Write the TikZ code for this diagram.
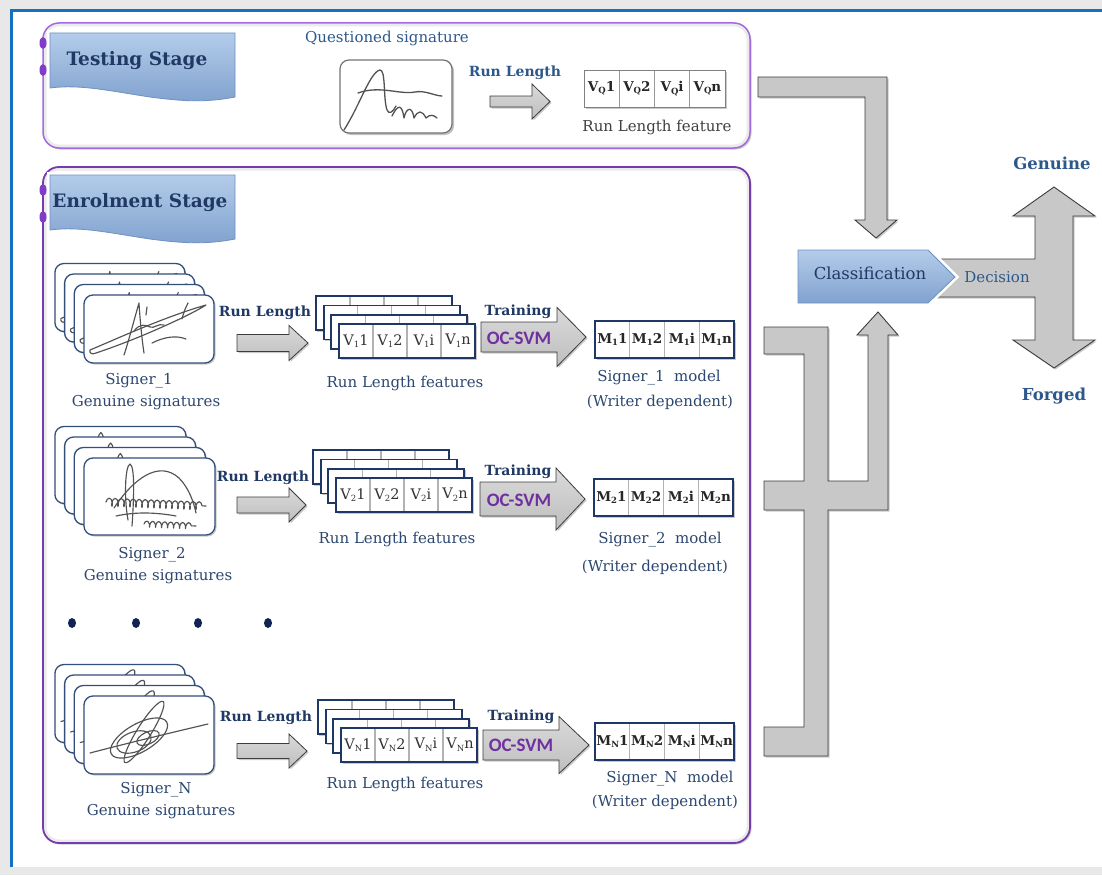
\documentclass[tikz,border=0pt]{standalone}
\usepackage{fontspec}
\setmainfont{DejaVu Serif}
\newfontfamily\calib{Carlito}
\usetikzlibrary{shadows,decorations.pathmorphing}

\definecolor{frameblue}{RGB}{22,112,192}
\definecolor{pagegray}{RGB}{232,232,232}
\definecolor{testpurple}{RGB}{165,105,225}
\definecolor{enrolpurple}{RGB}{118,60,175}
\definecolor{dotpurple}{RGB}{128,60,200}
\definecolor{bannertop}{RGB}{180,204,234}
\definecolor{bannerbot}{RGB}{128,162,206}
\definecolor{bannerline}{RGB}{110,145,195}
\definecolor{navy}{RGB}{31,56,100}
\definecolor{slate}{RGB}{45,72,112}
\definecolor{steel}{RGB}{45,88,140}
\definecolor{cardblue}{RGB}{50,78,122}
\definecolor{boxnavy}{RGB}{30,55,100}
\definecolor{arrowtop}{RGB}{218,218,218}
\definecolor{arrowbot}{RGB}{190,190,190}
\definecolor{arrowflat}{RGB}{200,200,200}
\definecolor{arrowline}{RGB}{60,60,60}
\definecolor{svmpurple}{RGB}{112,48,160}
\definecolor{dotnavy}{RGB}{15,35,85}
\definecolor{darktext}{RGB}{64,64,64}
\definecolor{divgray}{RGB}{178,178,178}

\tikzset{
  softshadow/.style={drop shadow={shadow xshift=1.5pt,shadow yshift=-1.5pt,opacity=0.35,fill=black!60}},
  blockarrow/.style={top color=arrowtop,bottom color=arrowbot,draw=arrowline,line width=0.8pt,line join=miter,softshadow},
  bigarrow/.style={fill=arrowflat,draw=arrowline,line width=0.9pt,line join=miter,softshadow},
  cardfill/.style={fill=white,rounded corners=9pt,softshadow},
  cardline/.style={draw=cardblue,line width=1.3pt,rounded corners=9pt},
  sigline/.style={draw=black!68,line width=1.15pt,line cap=round,line join=round},
  featfill/.style={fill=white,softshadow},
  featline/.style={draw=boxnavy,line width=1.8pt},
  celldiv/.style={draw=divgray,line width=1.2pt},
  lbl/.style={inner sep=0pt,text=slate,font=\fontsize{15}{16}\selectfont},
  blbl/.style={inner sep=0pt,text=navy,font=\fontsize{14}{16}\selectfont\bfseries},
  svm/.style={inner sep=0pt,text=svmpurple,font=\calib\fontsize{19}{20}\selectfont\bfseries},
  cellv/.style={inner sep=0pt,text=black!80,font=\fontsize{14.5}{16}\selectfont},
  cellm/.style={inner sep=0pt,text=black!85,font=\fontsize{13.5}{16}\selectfont\bfseries},
  stagetxt/.style={inner sep=0pt,text=navy,font=\fontsize{18.5}{20}\selectfont\bfseries},
  banner/.style={top color=bannertop,bottom color=bannerbot,draw=bannerline,line width=0.8pt},
  glow/.style={draw=white,fill=white,line width=6pt,line join=miter,softshadow},
}

% small lowered index inside a cell label
\newcommand\lowidx[1]{\raisebox{-0.35ex}{\fontsize{8.5}{9}\selectfont #1}}

% right-pointing block arrow: x start, head base x, tip x, centre y, shaft half height, head half height
\newcommand\rarrow[6]{%
  \path[blockarrow] (#1,#4-#5) -- (#2,#4-#5) -- (#2,#4-#6) -- (#3,#4) -- (#2,#4+#6) -- (#2,#4+#5) -- (#1,#4+#5) -- cycle;}

% stack of four signature cards; #1,#2 front card corner, #3 width, #4 height, #5 strokes
\newcommand\sigstack[5]{%
  \foreach \k in {3,2,1,0}{
    \begin{scope}[shift={(#1-9.7*\k,#2-10.5*\k)}]
      \path[cardfill] (0,0) rectangle (#3,#4);
      \begin{scope}
        \clip[rounded corners=9pt] (0,0) rectangle (#3,#4);
        #5
      \end{scope}
      \draw[cardline] (0,0) rectangle (#3,#4);
    \end{scope}
  }}

% stack of feature vectors; #1 name, #2,#3 front corner, #4-#7 cell labels
\newcommand\featstack[7]{%
  \foreach \k in {3,2,1}{
    \begin{scope}[shift={(#2-7.7*\k,#3-9.3*\k)}]
      \path[featfill] (0,0) rectangle (136,34);
      \foreach \c in {1,2,3} \draw[celldiv] (34*\c,1) -- (34*\c,33);
      \draw[featline] (0,0) rectangle (136,34);
    \end{scope}
  }
  \path[featfill] (#2,#3) rectangle +(136,34);
  \foreach \c in {1,2,3} \draw[celldiv] (#2+34*\c,#3+1) -- (#2+34*\c,#3+33);
  \draw[featline] (#2,#3) rectangle +(136,34);
  \node[cellv] (#1-a) at (#2+17,#3+17) {#4};
  \node[cellv] (#1-b) at (#2+51,#3+17) {#5};
  \node[cellv] (#1-c) at (#2+85,#3+17) {#6};
  \node[cellv] (#1-d) at (#2+119,#3+17) {#7};}

% writer model vector; #1 name, #2,#3 corner, #4-#7 cell labels
\newcommand\modelbox[7]{%
  \path[featfill] (#2,#3) rectangle +(139,37);
  \foreach \c in {1,2,3} \draw[celldiv] (#2+34.75*\c,#3+1) -- (#2+34.75*\c,#3+36);
  \draw[featline] (#2,#3) rectangle +(139,37);
  \node[cellm] (#1-a) at (#2+17.4,#3+18.5) {#4};
  \node[cellm] (#1-b) at (#2+52.1,#3+18.5) {#5};
  \node[cellm] (#1-c) at (#2+86.9,#3+18.5) {#6};
  \node[cellm] (#1-d) at (#2+121.6,#3+18.5) {#7};}

% handwritten strokes
\newcommand\sigone{%
  \draw[sigline] (6,55) .. controls (30,45) and (80,22) .. (122,10) .. controls (110,18) and (60,42) .. (12,58) .. controls (8,60) and (5,58) .. (6,55);
  \draw[sigline] (40,60) .. controls (45,45) and (50,25) .. (55,8) .. controls (56,25) and (58,45) .. (60,58);
  \draw[sigline] (50,36) .. controls (56,28) and (62,30) .. (66,32) .. controls (70,34) and (74,28) .. (80,30);
  \draw[sigline] (68,48) .. controls (80,42) and (92,40) .. (102,44);
  \draw[sigline] (98,24) .. controls (100,16) and (102,12) .. (104,8);
  \draw[sigline] (62,20) -- (63,12);}
\newcommand\sigtwo{%
  \draw[sigline] (44,62) .. controls (40,40) and (41,8) .. (46,6) .. controls (51,8) and (50,40) .. (48,68);
  \draw[sigline] (30,50) .. controls (50,20) and (75,2) .. (95,20) .. controls (105,30) and (110,45) .. (112,55);
  \draw[sigline,decorate,decoration={coil,amplitude=4pt,segment length=6pt,aspect=0.4}] (22,44) -- (122,48);
  \draw[sigline,decorate,decoration={coil,amplitude=3pt,segment length=6pt,aspect=0.4}] (60,66) -- (112,68);
  \draw[sigline] (32,58) .. controls (50,54) and (70,54) .. (92,58);}
\newcommand\sigthree{%
  \draw[sigline,rotate around={30:(55,42)}] (55,42) ellipse [x radius=32,y radius=14];
  \draw[sigline,rotate around={58:(60,36)}] (60,36) ellipse [x radius=36,y radius=7];
  \draw[sigline,rotate around={20:(50,46)}] (50,46) ellipse [x radius=18,y radius=10];
  \draw[sigline,rotate around={25:(64,42)}] (64,42) ellipse [x radius=12,y radius=6];
  \draw[sigline] (6,57) .. controls (40,48) and (90,36) .. (124,28);}
\newcommand\sigtest{%
  \draw[sigline,line width=1.3pt] (4,70) .. controls (20,45) and (30,12) .. (40,10) .. controls (46,10) and (43,38) .. (47,50) .. controls (49,55) and (53,52) .. (56,46);
  \draw[sigline,line width=1.3pt] (18,33) .. controls (40,25) and (60,35) .. (75,32) .. controls (85,30) and (95,36) .. (102,36);
  \draw[sigline,line width=1.3pt] (52,56) .. controls (58,44) and (62,44) .. (64,58) .. controls (66,48) and (72,45) .. (74,58) .. controls (78,50) and (82,50) .. (86,58) .. controls (90,54) and (94,55) .. (97,58);}

\begin{document}
\begin{tikzpicture}[x=1pt,y=-1pt]
\useasboundingbox (0,0) rectangle (1102,875);

% page and frame
\fill[pagegray] (0,0) rectangle (1102,875);
\fill[white] (11,11) rectangle (1102,867);
\draw[frameblue,line width=3pt] (11,867) -- (11,11) -- (1102,11);

% stage panels
\path[fill=white,rounded corners=16pt,softshadow] (43,23) rectangle (750,148);
\begin{scope}
  \clip[rounded corners=16pt] (43,23) rectangle (750,148);
  \draw[black!8,line width=7pt,rounded corners=16pt] (43,23) rectangle (750,148);
\end{scope}
\draw[testpurple,line width=1.5pt,rounded corners=16pt] (43,23) rectangle (750,148);

\path[fill=white,rounded corners=16pt,softshadow] (43,167) rectangle (750,843);
\begin{scope}
  \clip[rounded corners=16pt] (43,167) rectangle (750,843);
  \draw[black!8,line width=7pt,rounded corners=16pt] (43,167) rectangle (750,843);
\end{scope}
\draw[enrolpurple,line width=1.8pt,rounded corners=16pt] (43,167) rectangle (750,843);

% stage banners
\foreach \dy/\nm/\txt/\tx in {0/testing/Testing Stage/137, 142/enrol/Enrolment Stage/140}{
  \begin{scope}[shift={(0,\dy)}]
    \path[glow] (50,33) -- (235,33) -- (235,97) .. controls (205,103) and (180,101) .. (150,97) .. controls (110,91) and (80,84) .. (50,88) -- cycle;
    \path[banner] (50,33) -- (235,33) -- (235,97) .. controls (205,103) and (180,101) .. (150,97) .. controls (110,91) and (80,84) .. (50,88) -- cycle;
    \node[stagetxt] (\nm) at (\tx,61) {\txt};
  \end{scope}
}
\foreach \yy in {43,70,190,217} \fill[dotpurple] (43,\yy) ellipse [x radius=3.5,y radius=6];

% testing stage
\node[lbl,text=steel] (qlabel) at (387,38) {Questioned signature};
\begin{scope}[shift={(340,60)}]
  \path[fill=white,rounded corners=9pt,drop shadow={shadow xshift=2pt,shadow yshift=-2pt,opacity=0.4,fill=black!60}] (0,0) rectangle (112,73);
  \begin{scope}
    \clip[rounded corners=9pt] (0,0) rectangle (112,73);
    \sigtest
  \end{scope}
  \draw[black!55,line width=1.2pt,rounded corners=9pt] (0,0) rectangle (112,73);
\end{scope}
\node[blbl,text=steel] (qrl) at (515,73) {Run Length};
\rarrow{490}{532}{550}{101.5}{5.5}{17.5}
\path[fill=white,drop shadow={shadow xshift=2pt,shadow yshift=-2pt,opacity=0.35,fill=black!60}] (584,70) rectangle (725,107);
\foreach \c in {1,2,3} \draw[black!40,line width=1pt] (584+35.25*\c,70) -- (584+35.25*\c,107);
\draw[black!50,line width=1pt] (584,70) rectangle (725,107);
\node[cellm,text=black!85] (vq1) at (601.6,88.5) {V\lowidx{Q}1};
\node[cellm,text=black!85] (vq2) at (636.9,88.5) {V\lowidx{Q}2};
\node[cellm,text=black!85] (vqi) at (672.1,88.5) {V\lowidx{Q}i};
\node[cellm,text=black!85] (vqn) at (707.4,88.5) {V\lowidx{Q}n};
\node[lbl,text=darktext] (qfeat) at (657,127) {Run Length feature};

% enrolment row 1
\sigstack{84}{295}{130}{68}{\sigone}
\node[lbl] (s1a) at (139,381) {Signer\_1};
\node[lbl] (s1b) at (146,403) {Genuine signatures};
\node[blbl] (rl1) at (265,313) {Run Length};
\rarrow{237}{289}{308}{343}{8.5}{17.5}
\featstack{f1}{339}{324}{V\lowidx{1}1}{V\lowidx{1}2}{V\lowidx{1}i}{V\lowidx{1}n}
\node[lbl] (f1l) at (405,383) {Run Length features};
\rarrow{481}{557}{586}{337}{15}{29.5}
\node[blbl] (tr1) at (518,312) {Training};
\node[svm] (svm1) at (519,338) {OC-SVM};
\modelbox{m1}{595}{321}{M\lowidx{1}1}{M\lowidx{1}2}{M\lowidx{1}i}{M\lowidx{1}n}
\node[lbl] (m1a) at (659,378) {Signer\_1\ \ model};
\node[lbl] (m1b) at (660,402) {(Writer dependent)};

% enrolment row 2
\sigstack{84}{458}{131}{77}{\sigtwo}
\node[lbl] (s2a) at (152,555) {Signer\_2};
\node[lbl] (s2b) at (158,577) {Genuine signatures};
\node[blbl] (rl2) at (263,478) {Run Length};
\rarrow{237}{289}{306}{505}{8}{17}
\featstack{f2}{336}{478}{V\lowidx{2}1}{V\lowidx{2}2}{V\lowidx{2}i}{V\lowidx{2}n}
\node[lbl] (f2l) at (397,539) {Run Length features};
\rarrow{480}{556}{585}{499}{17}{31}
\node[blbl] (tr2) at (518,472) {Training};
\node[svm] (svm2) at (519,500) {OC-SVM};
\modelbox{m2}{594}{479}{M\lowidx{2}1}{M\lowidx{2}2}{M\lowidx{2}i}{M\lowidx{2}n}
\node[lbl] (m2a) at (660,540) {Signer\_2\ \ model};
\node[lbl] (m2b) at (655,567) {(Writer dependent)};

% elided writers
\foreach \xx in {72,136,198,268} \fill[dotnavy] (\xx,623) ellipse [x radius=4,y radius=5];

% enrolment row N
\sigstack{84}{696}{130}{78}{\sigthree}
\node[lbl] (sna) at (156,790) {Signer\_N};
\node[lbl] (snb) at (161,812) {Genuine signatures};
\node[blbl] (rln) at (266,718) {Run Length};
\rarrow{237}{289}{307}{751}{7.5}{17}
\featstack{fn}{341}{728}{V\lowidx{N}1}{V\lowidx{N}2}{V\lowidx{N}i}{V\lowidx{N}n}
\node[lbl] (fnl) at (405,784) {Run Length features};
\rarrow{483}{559}{589}{745}{15}{28.5}
\node[blbl] (trn) at (521,717) {Training};
\node[svm] (svmn) at (521,745) {OC-SVM};
\modelbox{mn}{595}{723}{M\lowidx{N}1}{M\lowidx{N}2}{M\lowidx{N}i}{M\lowidx{N}n}
\node[lbl] (mna) at (670,779) {Signer\_N\ \ model};
\node[lbl] (mnb) at (665,802) {(Writer dependent)};

% query features down to the classifier
\path[bigarrow] (758,77) -- (887,77) -- (887,220) -- (897,220) -- (876,238) -- (855,220) -- (865,220) -- (865,97) -- (758,97) -- cycle;

% writer models up to the classifier
\path[bigarrow] (764,327) -- (828,327) -- (828,481) -- (868,481) -- (868,335) -- (857,335) -- (878,312) -- (898,335) -- (888,335) -- (888,510) -- (828,510) -- (828,756) -- (764,756) -- (764,727) -- (804,727) -- (804,510) -- (764,510) -- (764,481) -- (804,481) -- (804,354) -- (764,354) -- cycle;

% decision fork
\path[bigarrow] (930,259) -- (1035,259) -- (1035,216) -- (1013,216) -- (1054,187) -- (1095,216) -- (1073,216) -- (1073,340) -- (1095,340) -- (1054,368) -- (1013,340) -- (1035,340) -- (1035,297) -- (930,297) -- cycle;

% classifier
\path[glow] (798,250) -- (928,250) -- (955,277) -- (928,303) -- (798,303) -- cycle;
\path[banner] (798,250) -- (928,250) -- (955,277) -- (928,303) -- (798,303) -- cycle;
\node[inner sep=0pt,text=navy,font=\fontsize{16.5}{18}\selectfont] (classif) at (870,273) {Classification};
\node[inner sep=0pt,text=steel,font=\fontsize{15}{16}\selectfont] (decision) at (997,277) {Decision};
\node[inner sep=0pt,text=steel,font=\fontsize{16.5}{18}\selectfont\bfseries] (genuine) at (1052,163) {Genuine};
\node[inner sep=0pt,text=steel,font=\fontsize{16.5}{18}\selectfont\bfseries] (forged) at (1054,396) {Forged};
\end{tikzpicture}
\end{document}
